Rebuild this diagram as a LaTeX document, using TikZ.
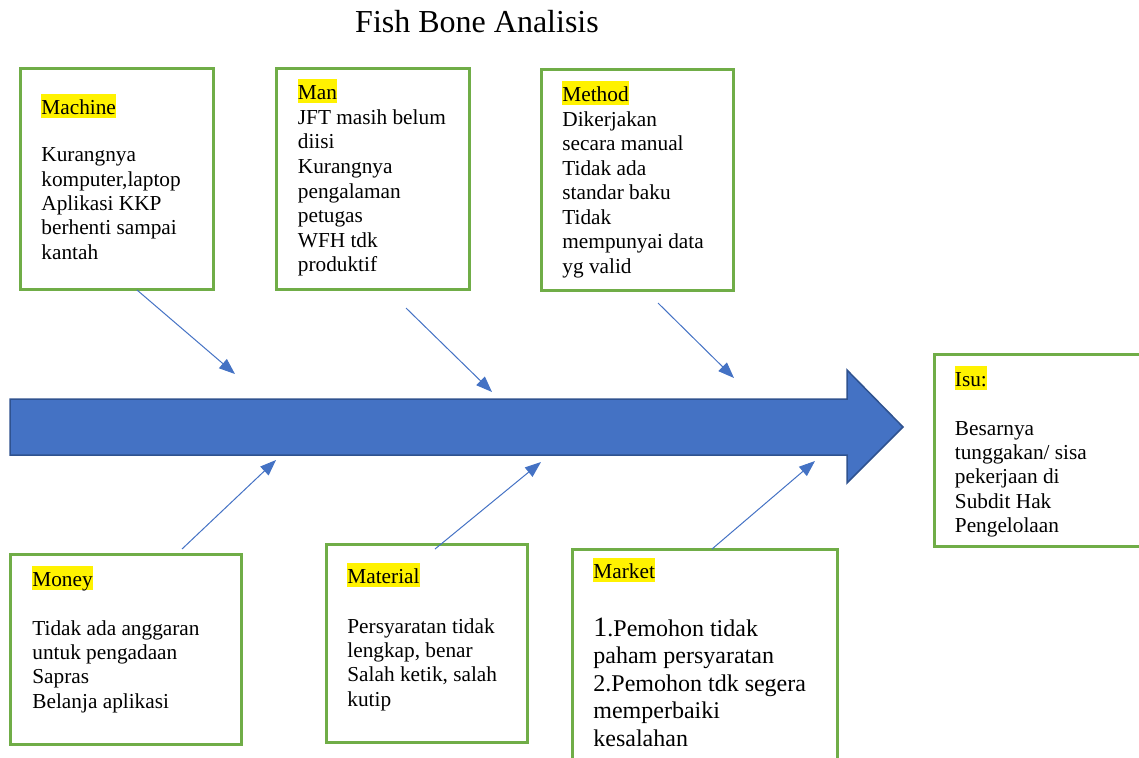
\documentclass[tikz,border=0pt]{standalone}
\usepackage{fontspec}
\setmainfont{Liberation Serif}
\usetikzlibrary{arrows.meta}
\definecolor{boxgreen}{HTML}{70AD47}
\definecolor{spineblue}{HTML}{4472C4}
\definecolor{spineedge}{HTML}{2F528F}
\tikzset{
  catbox/.style={draw=boxgreen, line width=1.5pt, fill=white},
  tag/.style={anchor=base west, fill=yellow, inner sep=0pt, text height=10.2pt, text depth=1.8pt,
    font=\fontsize{10.65}{12.15}\selectfont},
  % multi-line text is placed by the baseline of its last line
  body/.style={anchor=base west, inner sep=0pt, align=left,
    font=\fontsize{10.65}{12.2}\selectfont},
  bone/.style={draw=spineblue, line width=0.5pt, -{Triangle[length=8pt,width=6pt]}},
}
\begin{document}
\begin{tikzpicture}[x=0.5pt, y=-0.5pt]
\useasboundingbox (0,0) rectangle (1139,757);
\clip (0,0) rectangle (1139,757);

% title
\node[anchor=base, inner sep=0pt, font=\fontsize{16}{19}\selectfont] (title) at (477,32) {Fish Bone Analisis};

% spine arrow
\path[fill=spineblue, draw=spineedge, line width=0.75pt]
  (10,399) -- (847,399) -- (847,370) -- (903,427) -- (847,483) -- (847,455) -- (10,455) -- cycle;

% cause boxes, upper row
\draw[catbox] (20,68) rectangle (213,289);
\node[tag] (machineTag) at (41,114) {Machine};
\node[body] (machineText) at (41,259.2) {Kurangnya\\komputer,laptop\\Aplikasi KKP\\berhenti sampai\\kantah};

\draw[catbox] (276,68) rectangle (469,289);
\node[tag] (manTag) at (297.5,99.5) {Man};
\node[body, font=\fontsize{10.65}{12.3}\selectfont] (manText) at (297.5,271.9)
  {JFT masih belum\\diisi\\Kurangnya\\pengalaman\\petugas\\WFH tdk\\produktif};

\draw[catbox] (541,69) rectangle (733,290);
\node[tag] (methodTag) at (562,101.5) {Method};
\node[body, font=\fontsize{10.65}{12.25}\selectfont] (methodText) at (562,273)
  {Dikerjakan\\secara manual\\Tidak ada\\standar baku\\Tidak\\mempunyai data\\yg valid};

% issue box
\draw[catbox] (934,354) rectangle (1150,546);
\node[tag] (isuTag) at (954.5,386.5) {Isu:};
\node[body] (isuText) at (954.5,532.6)
  {Besarnya\\tunggakan/ sisa\\pekerjaan di\\Subdit Hak\\Pengelolaan};

% cause boxes, lower row
\draw[catbox] (10,554) rectangle (241,744);
\node[tag] (moneyTag) at (32,586) {Money};
\node[body] (moneyText) at (32,708.2)
  {Tidak ada anggaran\\untuk pengadaan\\Sapras\\Belanja aplikasi};

\draw[catbox] (326,544) rectangle (527,742);
\node[tag] (materialTag) at (347,583) {Material};
\node[body] (materialText) at (347,706.2)
  {Persyaratan tidak\\lengkap, benar\\Salah ketik, salah\\kutip};

\draw[catbox] (572,549) rectangle (837,780);
\node[tag] (marketTag) at (593,578.5) {Market};
\node[body, font=\fontsize{12}{13.75}\selectfont] (marketText) at (593,746)
  {{\fontsize{14}{13.75}\selectfont 1}.Pemohon tidak\\paham persyaratan\\2.Pemohon tdk segera\\memperbaiki\\kesalahan};

% bones from the causes to the spine
\coordinate (machineFrom) at (137,290);  \coordinate (machineTo) at (235,374);
\coordinate (manFrom) at (406,308);      \coordinate (manTo) at (492,392);
\coordinate (methodFrom) at (658,303);   \coordinate (methodTo) at (734,378);
\coordinate (moneyFrom) at (182,549);    \coordinate (moneyTo) at (276,460);
\coordinate (materialFrom) at (435,549); \coordinate (materialTo) at (541,462);
\coordinate (marketFrom) at (712,549);   \coordinate (marketTo) at (815,461);
\foreach \c in {machine,man,method,money,material,market}
  \draw[bone] (\c From) -- (\c To);
\end{tikzpicture}
\end{document}
